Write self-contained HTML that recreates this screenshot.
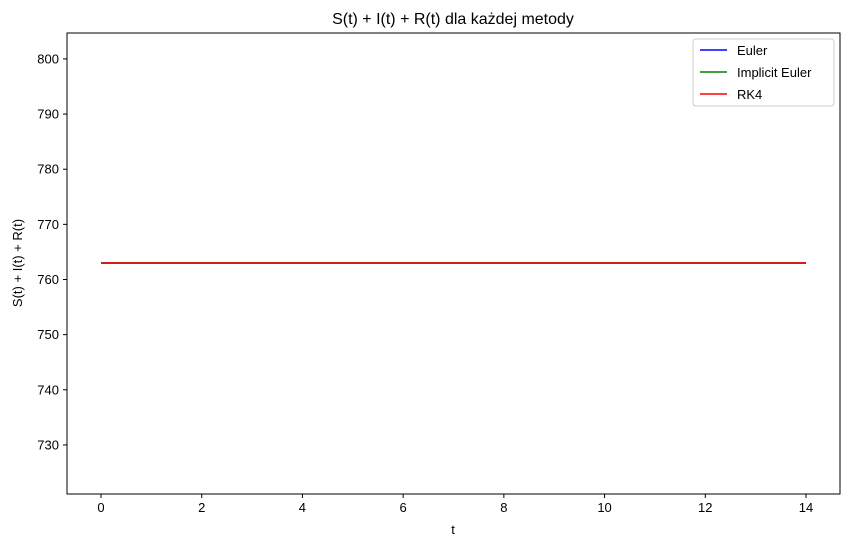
<!DOCTYPE html>
<html><head><meta charset="utf-8"><style>
body{margin:0;background:#fff;}
svg{display:block;font-family:"Liberation Sans","DejaVu Sans",sans-serif;}
</style></head><body>
<svg id="chart" width="850" height="547">
<rect x="0" y="0" width="850" height="547" fill="#fff"/>
<text x="453" y="24" text-anchor="middle" font-size="16">S(t) + I(t) + R(t) dla każdej metody</text>
<g id="ticks"></g>
<g id="lines"></g>
<rect x="67" y="33" width="773" height="461" fill="none" stroke="#000" stroke-width="1"/>
<text x="453" y="534" text-anchor="middle" font-size="13">t</text>
<text transform="translate(22,263) rotate(-90)" text-anchor="middle" font-size="13">S(t) + I(t) + R(t)</text>
<g>
<rect x="693" y="39" width="141" height="67" rx="3" fill="#fff" stroke="#ccc"/>
<line x1="700" y1="50" x2="727" y2="50" stroke="blue" stroke-width="1.5"/>
<text x="737" y="55" font-size="13">Euler</text>
<line x1="700" y1="72" x2="727" y2="72" stroke="green" stroke-width="1.5"/>
<text x="737" y="77" font-size="13">Implicit Euler</text>
<line x1="700" y1="94" x2="727" y2="94" stroke="red" stroke-width="1.5"/>
<text x="737" y="99" font-size="13">RK4</text>
</g>
</svg>
<script>
const xTicks=[0,2,4,6,8,10,12,14];
const yTicks=[730,740,750,760,770,780,790,800];
const tVals=[0,14];
const eulerVals=[763,763];
const implicitVals=[763,763];
const rk4Vals=[763,763];
const seriesColors=["blue","green","red"];
const seriesNames=["euler","implicit-euler","rk4"];
const xMin=-0.675,xMax=14.675,yMin=721.1,yMax=804.7;
const L=67,R=840,T=33,B=494;
function xs(v){return L+(v-xMin)/(xMax-xMin)*(R-L);}
function ys(v){return B-(v-yMin)/(yMax-yMin)*(B-T);}
const NS="http://www.w3.org/2000/svg";
const tg=document.getElementById('ticks');
xTicks.forEach(v=>{
 const l=document.createElementNS(NS,'line');
 l.setAttribute('x1',xs(v));l.setAttribute('x2',xs(v));l.setAttribute('y1',B);l.setAttribute('y2',B+4);l.setAttribute('stroke','#000');
 
 
 tg.appendChild(l);
 const t=document.createElementNS(NS,'text');
 t.setAttribute('x',xs(v));t.setAttribute('y',B+18);t.setAttribute('text-anchor','middle');t.setAttribute('font-size','13');t.textContent=v;
 
 
 tg.appendChild(t);
});
yTicks.forEach(v=>{
 const l=document.createElementNS(NS,'line');
 l.setAttribute('x1',L-4);l.setAttribute('x2',L);l.setAttribute('y1',ys(v));l.setAttribute('y2',ys(v));l.setAttribute('stroke','#000');
 
 
 tg.appendChild(l);
 const t=document.createElementNS(NS,'text');
 t.setAttribute('x',L-8);t.setAttribute('y',ys(v)+4.5);t.setAttribute('text-anchor','end');t.setAttribute('font-size','13');t.textContent=v;
 
 
 tg.appendChild(t);
});
const lg=document.getElementById('lines');
[eulerVals,implicitVals,rk4Vals].forEach((s,i)=>{
 const p=document.createElementNS(NS,'polyline');
 p.setAttribute('points',s.map((v,j)=>xs(tVals[j])+','+ys(v)).join(' '));
 p.setAttribute('fill','none');p.setAttribute('stroke',seriesColors[i]);p.setAttribute('stroke-width','1.5');
 
 
 lg.appendChild(p);
});
</script>
</body></html>
